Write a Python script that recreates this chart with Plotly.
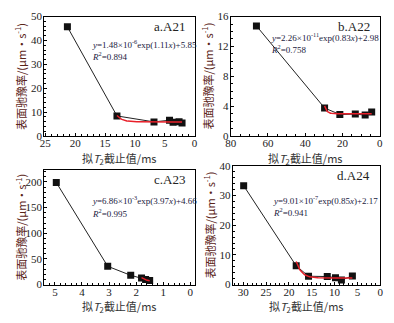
import numpy as np
import plotly.graph_objects as go

W, H = 394, 323

# ---- data ----
a_x = [21.3, 13.0, 6.8, 4.2, 3.6, 2.6, 2.1]
a_y = [45.7, 8.4, 5.9, 6.6, 5.8, 6.0, 5.4]
b_x = [66.2, 29.6, 21.4, 13.1, 7.8, 4.3]
b_y = [14.75, 3.75, 2.88, 2.93, 2.8, 3.2]
c_x = [4.95, 3.05, 2.2, 1.8, 1.65, 1.5]
c_y = [199, 35.6, 18, 13, 10, 8]
d_x = [29.9, 18.4, 15.7, 11.6, 9.8, 8.5, 6.1]
d_y = [33.3, 6.3, 2.8, 2.7, 2.3, 1.5, 2.9]

# fitted equations shown on chart: y = A*exp(B*x)+C
fit_a = [1.48e-6, 1.11, 5.85]
fit_b = [2.26e-11, 0.83, 2.98]
fit_c = [6.86e-3, 3.97, 4.66]
fit_d = [9.01e-7, 0.85, 2.17]
fit_start = [13.0, 29.6, 1.8, 18.4]

labels = ["a.A21", "b.A22", "c.A23", "d.A24"]
eqs = ["<i>y</i>=1.48×10<sup>-6</sup>exp(1.11<i>x</i>)+5.85",
       "<i>y</i>=2.26×10<sup>-11</sup>exp(0.83<i>x</i>)+2.98",
       "<i>y</i>=6.86×10<sup>-3</sup>exp(3.97<i>x</i>)+4.66",
       "<i>y</i>=9.01×10<sup>-7</sup>exp(0.85<i>x</i>)+2.17"]
r2 = ["0.894", "0.758", "0.995", "0.941"]

xranges = [[25.2, 0], [80, -0.3], [5.4, -0.16], [32.3, 0]]
yranges = [[0, 50], [0, 16], [0, 224], [0, 40]]
xdtick = [5, 20, 1, 5]
ydtick = [10, 4, 50, 10]

# pixel boxes: left, right, top, bottom
boxes = [(39, 193, 11, 135), (230, 383, 11, 135), (39, 193, 170, 289.3), (232, 383, 166, 289.3)]

serif = "Liberation Serif"
cjk = "Noto Sans CJK SC"

fig = go.Figure()
datasets = [(a_x, a_y), (b_x, b_y), (c_x, c_y), (d_x, d_y)]
fits = [fit_a, fit_b, fit_c, fit_d]

layout = dict(width=W, height=H, margin=dict(l=0, r=0, t=0, b=0),
              paper_bgcolor="white", plot_bgcolor="white", showlegend=False)
annotations = []

for i, ((xs, ys), fp) in enumerate(zip(datasets, fits)):
    n = "" if i == 0 else str(i + 1)
    xa, ya = "x" + n, "y" + n
    # fit curve
    xf = np.linspace(fit_start[i], xs[-1], 80)
    yf = fp[0] * np.exp(fp[1] * xf) + fp[2]
    fig.add_trace(go.Scatter(x=xs, y=ys, mode="lines+markers", xaxis=xa, yaxis=ya,
                             line=dict(color="#222222", width=1),
                             marker=dict(symbol="square", size=7, color="#111111")))
    fig.add_trace(go.Scatter(x=xf, y=yf, mode="lines", xaxis=xa, yaxis=ya,
                             line=dict(color="#e8202a", width=1.5)))
    l, r, t, b = boxes[i]
    axcommon = dict(showline=True, linecolor="black", linewidth=1, mirror=True,
                    ticks="inside", ticklen=3, tickcolor="black", showgrid=False,
                    zeroline=False, tickfont=dict(family=serif, size=11, color="#222"),
                    minor=dict(ticks="inside", ticklen=2, tickcolor="black"))
    layout["xaxis" + n] = dict(axcommon, domain=[l / W, r / W], range=xranges[i],
                               dtick=xdtick[i], tick0=0, anchor=ya, ticklabelstandoff=-3)
    layout["yaxis" + n] = dict(axcommon, domain=[1 - b / H, 1 - t / H], range=yranges[i],
                               dtick=ydtick[i], tick0=0, anchor=xa, ticklabelstandoff=-1)
    # panel label
    annotations.append(dict(x=(r - 8) / W, y=1 - (t + 10) / H, xref="paper", yref="paper",
                            xanchor="right", yanchor="middle", showarrow=False,
                            text=labels[i], font=dict(family=serif, size=13, color="#222")))
    ex = l + 47 if i in (0, 2) else l + 39
    ey = t + 28 if i != 1 else t + 21
    if i == 2:
        ey = t + 32
    if i == 3:
        ey = t + 35
    annotations.append(dict(x=ex / W, y=1 - ey / H, xref="paper", yref="paper",
                            xanchor="left", yanchor="middle", showarrow=False,
                            text=eqs[i], font=dict(family=serif, size=9, color="#1a1a40")))
    annotations.append(dict(x=ex / W, y=1 - (ey + 13) / H, xref="paper", yref="paper",
                            xanchor="left", yanchor="middle", showarrow=False,
                            text="<i>R</i><sup>2</sup>=" + r2[i],
                            font=dict(family=serif, size=9, color="#1a1a40")))
    # axis titles
    annotations.append(dict(x=(l - 24) / W, y=1 - ((t + b) / 2) / H, xref="paper", yref="paper",
                            xanchor="center", yanchor="middle", showarrow=False, textangle=-90,
                            text="表面驰豫率/(μm·s<sup>-1</sup>)",
                            font=dict(family=cjk, size=11, color="#5a2418")))
    annotations.append(dict(x=((l + r) / 2) / W, y=1 - (b + 23) / H, xref="paper", yref="paper",
                            xanchor="center", yanchor="middle", showarrow=False,
                            text="拟<i>T</i><sub>2</sub>截止值/ms",
                            font=dict(family=cjk, size=11, color="#333")))

layout["annotations"] = annotations
fig.update_layout(**layout)
fig.write_html("out.html")
